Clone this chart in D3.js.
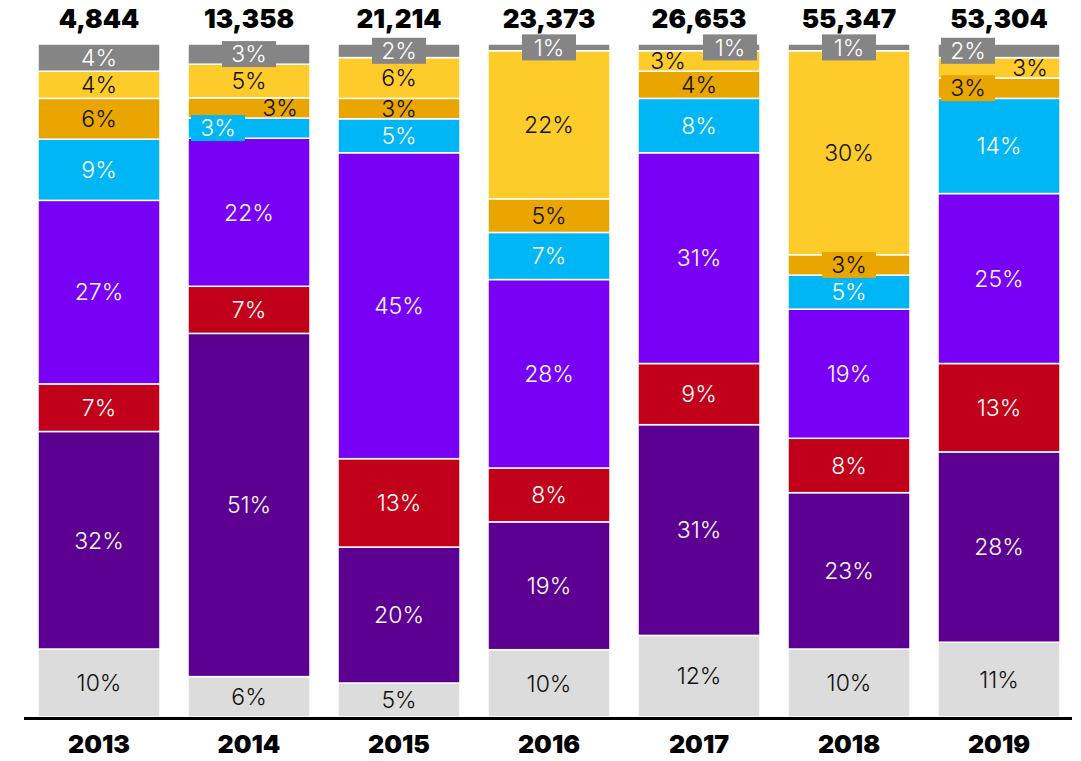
<!DOCTYPE html>
<html><head><meta charset="utf-8">
<script src="https://cdn.jsdelivr.net/npm/d3@7"></script>
<style>body{margin:0;background:#fff}svg{display:block}</style>
</head><body><svg id="c" width="1081" height="761"></svg>
<script>
const years = ["2013","2014","2015","2016","2017","2018","2019"];
const totals = ["4,844","13,358","21,214","23,373","26,653","55,347","53,304"];
const seriesKeys = ["lightgray","darkpurple","red","purple","cyan","orange","yellow","gray"];
const lightgray  = [10, 6, 5,10,12,10,11];
const darkpurple = [32,51,20,19,31,23,28];
const red        = [ 7, 7,13, 8, 9, 8,13];
const purple     = [27,22,45,28,31,19,25];
const cyan       = [ 9, 3, 5, 7, 8, 5,14];
const orange     = [ 6, 3, 3, 5, 4, 3, 3];
const yellow     = [ 4, 5, 6,22, 3,30, 3];
const gray       = [ 4, 3, 2, 1, 1, 1, 2];
// label placement codes per year (bottom->top): c center, l left, r right, b = with box
const labelCodes = [
  ["c","c","c","c","c","c","c","c"],
  ["c","c","c","c","lb","r","c","cb"],
  ["c","c","c","c","c","c","c","cb"],
  ["c","c","c","c","c","c","c","cb"],
  ["c","c","c","c","c","c","l","rb"],
  ["c","c","c","c","c","cb","c","cb"],
  ["c","c","c","c","c","lb","r","lb"]
];
const seriesVals = {lightgray,darkpurple,red,purple,cyan,orange,yellow,gray};
const colors = {lightgray:"#dcdcdc",darkpurple:"#5c0092",red:"#c1001a",purple:"#7800f5",cyan:"#00b6f4",orange:"#e9a500",yellow:"#fdcc2b",gray:"#858585"};
const textColors = {lightgray:"#111",darkpurple:"#fff",red:"#fff",purple:"#fff",cyan:"#fff",orange:"#111",yellow:"#111",gray:"#fff"};

const table = years.map((y,i)=>{const o={year:y,idx:i};seriesKeys.forEach(k=>o[k]=seriesVals[k][i]);return o;});
const stack = d3.stack().keys(seriesKeys).offset(d3.stackOffsetExpand);
const layers = stack(table);

const svg = d3.select("#c");
const x = d3.scaleBand().domain(years).range([23,1075]).paddingInner(28/150).paddingOuter(0.1);
const y = d3.scaleLinear().domain([0,1]).range([717,44]);

const g = svg.append("g");
layers.forEach(layer=>{
  const k = layer.key;
  g.selectAll(null).data(layer).join("rect")
    .attr("x",d=>x(d.data.year)).attr("width",x.bandwidth())
    .attr("y",d=>y(d[1])).attr("height",d=>y(d[0])-y(d[1]))
    .attr("fill",colors[k]).attr("stroke","#fff").attr("stroke-width",1.5);
});

// labels
const lab = svg.append("g").attr("font-family","Inter, 'Noto Sans', sans-serif").attr("font-weight",300).attr("font-size",23);
layers.forEach((layer,si)=>{
  const k = layer.key;
  layer.forEach((d,i)=>{
    const code = labelCodes[i][si];
    const bx = x(d.data.year), bw = x.bandwidth();
    let cx = bx+bw/2;
    if(code[0]==="l") cx = bx+30;
    if(code[0]==="r") cx = bx+bw-30;
    const cy = (y(d[0])+y(d[1]))/2;
    const t = seriesVals[k][i]+"%";
    if(code.includes("b")){
      lab.append("rect").attr("x",cx-27).attr("y",cy-13).attr("width",54).attr("height",26).attr("fill",colors[k]);
    }
    lab.append("text").attr("x",cx).attr("y",cy).attr("dy","0.36em").attr("text-anchor","middle")
      .attr("fill",textColors[k]).text(t);
  });
});

// totals
svg.append("g").selectAll("text").data(years).join("text")
  .attr("x",d=>x(d)+x.bandwidth()/2).attr("y",28).attr("text-anchor","middle")
  .attr("font-family","Inter, sans-serif").attr("font-weight",900).attr("font-size",26)
  .attr("fill","#000").text((d,i)=>totals[i]);

// axis
const axis = svg.append("g").attr("transform","translate(0,718)").call(d3.axisBottom(x).tickSize(0).tickPadding(17));
axis.select(".domain").remove();
svg.append("line").attr("x1",24).attr("x2",1072).attr("y1",718.5).attr("y2",718.5).attr("stroke","#000").attr("stroke-width",3);
axis.selectAll("text").attr("font-family","Inter, sans-serif").attr("font-weight",900).attr("font-size",25).attr("fill","#000");
</script></body></html>
